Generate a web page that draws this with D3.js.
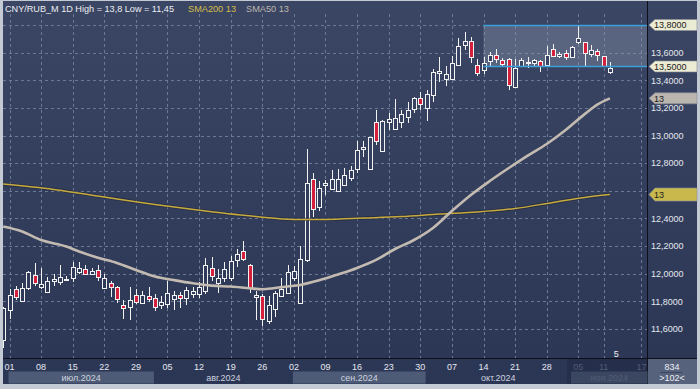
<!DOCTYPE html>
<html lang="ru">
<head>
<meta charset="UTF-8">
<title>CNY/RUB_M 1D</title>
<script src="https://cdn.jsdelivr.net/npm/d3@7"></script>
<style>
  body { margin: 0; background: #c3cad4; }
  svg { display: block; }
  text { font-family: "Liberation Sans", Arial, sans-serif; }
</style>
</head>
<body>
<script>

// trading days shown (MM-DD, 2024)
const dates = ['06-28',
  '07-01','07-02','07-03','07-04','07-05','07-08','07-09','07-10','07-11','07-12','07-15','07-16','07-17','07-18','07-19','07-22','07-23','07-24','07-25','07-26','07-29','07-30','07-31',
  '08-01','08-02','08-05','08-06','08-07','08-08','08-09','08-12','08-13','08-14','08-15','08-16','08-19','08-20','08-21','08-22','08-23','08-26','08-27','08-28','08-29','08-30',
  '09-02','09-03','09-04','09-05','09-06','09-09','09-10','09-11','09-12','09-13','09-16','09-17','09-18','09-19','09-20','09-23','09-24','09-25','09-26','09-27','09-30',
  '10-01','10-02','10-03','10-04','10-07','10-08','10-09','10-10','10-11','10-14','10-15','10-16','10-17','10-18','10-21','10-22','10-23','10-24','10-25','10-28','10-29','10-30','10-31',
  '11-01','11-05','11-06','11-07','11-08','11-11','11-12'];

const open = [11.52,
  11.736,11.888,11.806,11.896,11.988,11.903,11.867,11.947,11.939,11.959,11.968,12.010,12.034,11.998,12.027,11.896,11.932,11.905,11.772,11.762,11.845,11.787,11.840,
  11.825,11.772,11.779,11.816,11.845,11.821,11.850,11.850,11.874,12.041,11.930,11.966,11.966,12.099,12.167,12.063,11.830,11.840,11.658,11.743,11.838,11.857,
  11.971,11.787,12.102,12.688,12.482,12.645,12.616,12.599,12.645,12.693,12.761,12.902,12.761,13.096,12.887,13.096,13.045,13.101,13.132,13.190,13.275,
  13.198,13.295,13.452,13.409,13.411,13.508,13.658,13.682,13.508,13.476,13.537,13.580,13.544,13.554,13.348,13.505,13.527,13.525,13.542,13.513,13.627,13.573,13.598,
  13.569,13.678,13.675,13.590,13.609,13.573,13.460];

const high = [11.76,
  11.889,11.913,11.932,12.022,12.078,12.039,11.973,12.000,12.065,11.985,12.087,12.087,12.063,12.039,12.063,11.998,11.949,11.910,11.811,11.901,11.893,11.874,11.901,
  11.852,11.840,11.944,11.876,11.869,11.905,11.905,11.937,12.114,12.119,12.034,12.087,12.131,12.179,12.240,12.070,11.876,11.852,11.840,11.876,11.966,12.063,
  12.058,12.204,12.900,12.732,12.669,12.676,12.754,12.761,12.768,12.778,12.962,12.962,12.990,13.185,13.113,13.166,13.263,13.185,13.241,13.282,13.314,
  13.326,13.481,13.566,13.500,13.573,13.707,13.748,13.714,13.554,13.566,13.602,13.627,13.561,13.560,13.554,13.561,13.569,13.554,13.545,13.646,13.665,13.605,13.622,
  13.645,13.796,13.680,13.653,13.627,13.575,13.532];

const low = [11.46,
  11.675,11.811,11.796,11.884,11.913,11.888,11.867,11.908,11.918,11.944,11.937,11.998,11.993,11.996,11.947,11.888,11.828,11.787,11.675,11.663,11.779,11.779,11.799,
  11.728,11.743,11.755,11.736,11.755,11.775,11.821,11.825,11.850,11.949,11.857,11.942,11.949,12.046,12.090,11.864,11.663,11.622,11.639,11.690,11.835,11.852,
  11.949,11.787,12.082,12.410,12.453,12.567,12.604,12.599,12.640,12.672,12.730,12.846,12.761,12.931,12.882,13.040,13.045,13.057,13.088,13.161,13.185,
  13.108,13.246,13.391,13.355,13.399,13.500,13.617,13.525,13.428,13.445,13.500,13.525,13.500,13.326,13.343,13.493,13.489,13.500,13.457,13.510,13.569,13.561,13.549,
  13.565,13.665,13.505,13.569,13.537,13.496,13.445];

const close = [11.75,
  11.847,11.828,11.898,12.012,11.932,11.925,11.947,11.964,11.976,11.964,12.046,12.041,11.998,12.019,11.973,11.968,11.903,11.816,11.753,11.811,11.794,11.845,11.816,
  11.760,11.792,11.859,11.847,11.825,11.881,11.874,11.903,12.063,11.983,11.968,12.034,12.095,12.143,12.107,11.896,11.845,11.670,11.772,11.859,11.888,12.010,
  12.019,12.107,12.660,12.470,12.623,12.659,12.688,12.688,12.718,12.754,12.899,12.914,12.987,12.960,13.105,13.120,13.125,13.154,13.185,13.270,13.227,
  13.299,13.457,13.464,13.445,13.525,13.651,13.687,13.569,13.452,13.525,13.585,13.554,13.520,13.367,13.489,13.544,13.532,13.544,13.500,13.585,13.573,13.593,13.569,
  13.641,13.707,13.598,13.617,13.585,13.505,13.489];

// moving averages at these days
const sma50Dates = ['06-28','07-03','07-08','07-12','07-16','07-19','07-24','07-29','08-01','08-06','08-09','08-14','08-19','08-22','08-26','08-28','08-30',
  '09-03','09-06','09-11','09-16','09-19','09-24','09-27','10-02','10-07','10-10','10-15','10-18','10-23','10-28','10-31','11-06','11-08','11-12'];
const sma50Values = [12.342,12.306,12.244,12.197,12.161,12.116,12.078,12.027,11.980,11.954,11.931,11.914,11.907,11.895,11.888,11.897,11.908,
  11.919,11.952,11.995,12.042,12.100,12.179,12.244,12.331,12.454,12.570,12.671,12.765,12.855,12.939,13.040,13.155,13.224,13.269];

const sma200Dates = ['06-28','07-10','07-22','08-01','08-13','08-23','09-02','09-09','09-17','09-25','10-03','10-11','10-21','10-29','11-06','11-12'];
const sma200Values = [12.649,12.610,12.555,12.501,12.454,12.414,12.393,12.393,12.403,12.414,12.432,12.447,12.472,12.516,12.552,12.573];

// price axis
const yTicks = [11.6, 11.8, 12.0, 12.2, 12.4, 12.6, 12.8, 13.0, 13.2, 13.4, 13.6, 13.8];
const yHidden = [12.6, 13.8]; // covered by the tags

// date axis
const tickDays = ['07-01','07-08','07-15','07-22','07-29','08-05','08-12','08-19','08-26','09-02','09-09','09-16','09-23','09-30',
  '10-07','10-14','10-21','10-28','11-05','11-11'];
const futureTick = '17';
const months = ['июл.2024', 'авг.2024', 'сен.2024', 'окт.2024', 'ноя.2024'];
const monthStarts = ['07-01', '08-01', '09-02', '10-01', '11-01'];

// channel
const zoneHigh = 13.8, zoneLow = 13.5, zoneStart = '10-14';

const W = 700, H = 389;
const plotLeft = 3, plotRight = 647.5, plotTop = 0, plotBottom = 358.5;

const svg = d3.select("body").append("svg").attr("width", W).attr("height", H);
const defs = svg.append("defs");

const bg = defs.append("linearGradient").attr("id", "bg")
  .attr("gradientUnits", "userSpaceOnUse")
  .attr("x1", 0).attr("y1", 0).attr("x2", 0).attr("y2", 384);
bg.append("stop").attr("offset", 0).attr("stop-color", "#3b4664");
bg.append("stop").attr("offset", 1).attr("stop-color", "#2b3655");

defs.append("clipPath").attr("id", "plot")
  .append("rect").attr("x", plotLeft).attr("y", plotTop)
  .attr("width", plotRight - plotLeft).attr("height", plotBottom - plotTop);

const x = d3.scaleLinear().domain([1, 96]).range([9.5, 609.9]);
const y = d3.scaleLinear().domain([11.6, 13.8]).range([329, 25]);
const xd = d => x(dates.indexOf(d));

// frame and panels
svg.append("rect").attr("x", 0).attr("y", 0).attr("width", W).attr("height", H).attr("fill", "#c3cad4");
svg.append("rect").attr("x", plotLeft).attr("y", 1).attr("width", 697 - plotLeft).attr("height", 383).attr("fill", "url(#bg)");

const plot = svg.append("g").attr("clip-path", "url(#plot)");

// grid
plot.append("g").selectAll("line").data(yTicks).join("line")
  .attr("x1", plotLeft).attr("x2", plotRight)
  .attr("y1", d => Math.round(y(d)) + 0.5).attr("y2", d => Math.round(y(d)) + 0.5)
  .attr("stroke", "#6c7995").attr("stroke-dasharray", "3,3");

const vTicks = tickDays.map(xd).concat([x(dates.length - 1 + 5)]);
plot.append("g").selectAll("line").data(vTicks).join("line")
  .attr("x1", d => Math.round(d) + 0.5).attr("x2", d => Math.round(d) + 0.5)
  .attr("y1", 14).attr("y2", plotBottom)
  .attr("stroke", "#6c7995").attr("stroke-dasharray", "3,3");

// channel zone
plot.append("rect")
  .attr("x", xd(zoneStart)).attr("y", y(zoneHigh))
  .attr("width", plotRight - xd(zoneStart)).attr("height", y(zoneLow) - y(zoneHigh))
  .attr("fill", "#8e99b0").attr("opacity", 0.38);

// candles
const candles = dates.map((d, i) => ({ i, o: open[i], h: high[i], l: low[i], c: close[i] }));
const cg = plot.append("g").selectAll("g").data(candles).join("g");
cg.append("line")
  .attr("x1", d => Math.round(x(d.i)) + 0.5).attr("x2", d => Math.round(x(d.i)) + 0.5)
  .attr("y1", d => Math.round(y(d.h))).attr("y2", d => Math.round(y(d.l)))
  .attr("stroke", "#f2f2f2").attr("stroke-width", 1);
cg.append("rect")
  .attr("x", d => Math.round(x(d.i)) - 1.5)
  .attr("width", 4)
  .attr("y", d => Math.round(y(Math.max(d.o, d.c))) + 0.5)
  .attr("height", d => Math.max(1, Math.round(y(Math.min(d.o, d.c))) - Math.round(y(Math.max(d.o, d.c)))))
  .attr("fill", d => d.c < d.o ? "#d41f3d" : "url(#bg)")
  .attr("stroke", "#f2f2f2").attr("stroke-width", 1);

// moving averages
const line = d3.line().curve(d3.curveMonotoneX);
const sma200 = sma200Dates.map((d, i) => [xd(d), y(sma200Values[i])]);
const sma50 = sma50Dates.map((d, i) => [xd(d), y(sma50Values[i])]);
plot.append("path").attr("d", line(sma200)).attr("fill", "none")
  .attr("stroke", "#1e2230").attr("stroke-width", 3.2).attr("opacity", 0.55);
plot.append("path").attr("d", line(sma200)).attr("fill", "none")
  .attr("stroke", "#c7ab40").attr("stroke-width", 1.5);
plot.append("path").attr("d", line(sma50)).attr("fill", "none")
  .attr("stroke", "#c3bbb1").attr("stroke-width", 2.6);

// channel borders
[zoneHigh, zoneLow].forEach(v => {
  svg.append("line")
    .attr("x1", xd(zoneStart)).attr("x2", plotRight)
    .attr("y1", Math.round(y(v)) + 0.5).attr("y2", Math.round(y(v)) + 0.5)
    .attr("stroke", "#3b9fd9").attr("stroke-width", 1.6);
});

// price labels
svg.append("g").selectAll("text").data(yTicks.filter(t => !yHidden.includes(t))).join("text")
  .attr("x", 651).attr("y", d => y(d) + 3.3)
  .attr("font-size", 9).attr("fill", "#e4e8ef")
  .text(d => d3.format(".4f")(d).replace(".", ","));

function tag(v, label, fill, h) {
  const yy = y(v), x0 = 649, x1 = 697;
  svg.append("path")
    .attr("d", `M${x0},${yy} L${x0 + 6},${yy - h / 2} L${x1},${yy - h / 2} L${x1},${yy + h / 2} L${x0 + 6},${yy + h / 2} Z`)
    .attr("fill", fill).attr("stroke", "#8a8f98").attr("stroke-width", 0.6);
  svg.append("text").attr("x", 654).attr("y", yy + 3.3)
    .attr("font-size", 9).attr("fill", "#1b1b1b").text(label);
}
tag(zoneHigh, "13,8000", "#ecebd3", 11);
tag(zoneLow, "13,5000", "#ecebd3", 11);
tag(sma50Values[sma50Values.length - 1], "13", "#bab5ae", 11);
tag(sma200Values[sma200Values.length - 1], "13", "#c9b94d", 13);

// axis separators
svg.append("line").attr("x1", plotRight).attr("x2", plotRight).attr("y1", 1).attr("y2", 384)
  .attr("stroke", "#0d1018").attr("stroke-width", 1);
svg.append("line").attr("x1", plotLeft).attr("x2", 697).attr("y1", plotBottom).attr("y2", plotBottom)
  .attr("stroke", "#0d1018").attr("stroke-width", 1);

// month bands
const bandX = monthStarts.map(d => xd(d) - 1).concat([plotRight]);
svg.append("g").selectAll("rect").data(months).join("rect")
  .attr("x", (d, i) => bandX[i]).attr("y", 371.5)
  .attr("width", (d, i) => bandX[i + 1] - bandX[i]).attr("height", 12)
  .attr("fill", (d, i) => i % 2 === 0 ? "#4e5b77" : "none");
svg.append("g").selectAll("text").data(months).join("text")
  .attr("x", (d, i) => (bandX[i] + bandX[i + 1]) / 2).attr("y", 380.5)
  .attr("text-anchor", "middle").attr("font-size", 9)
  .attr("fill", (d, i) => i === months.length - 1 ? "#6f7a93" : "#cdd3de")
  .text(d => d);

// day labels
const lastMonth = monthStarts[monthStarts.length - 1];
svg.append("g").selectAll("text").data(tickDays).join("text")
  .attr("x", d => xd(d)).attr("y", 369.5)
  .attr("text-anchor", "middle").attr("font-size", 9)
  .attr("fill", d => d >= lastMonth ? "#6f7a93" : "#e4e8ef")
  .text(d => d.slice(3));
svg.append("text").attr("x", x(dates.length - 1 + 5)).attr("y", 369.5)
  .attr("text-anchor", "middle").attr("font-size", 9).attr("fill", "#6f7a93").text(futureTick);

// darkened current month on the axis
svg.append("rect").attr("x", bandX[4] - 4).attr("y", 359).attr("width", plotRight - bandX[4] + 4).attr("height", 25)
  .attr("fill", "#1b2238").attr("opacity", 0.35);

// info box
svg.append("rect").attr("x", 648).attr("y", 359).attr("width", 49).attr("height", 25).attr("fill", "#56627c");
svg.append("line").attr("x1", 660).attr("x2", 682).attr("y1", 372.5).attr("y2", 372.5).attr("stroke", "#3e4960");
svg.append("text").attr("x", 672).attr("y", 369.5).attr("text-anchor", "middle")
  .attr("font-size", 9).attr("fill", "#eef0f4").text("834");
svg.append("text").attr("x", 672).attr("y", 381).attr("text-anchor", "middle")
  .attr("font-size", 9).attr("fill", "#eef0f4").text(">102<");

svg.append("text").attr("x", x(dates.length)).attr("y", 356.5).attr("text-anchor", "middle")
  .attr("font-size", 9).attr("fill", "#eef0f4").text("5");

// title
svg.append("text").attr("x", 5).attr("y", 11.5).attr("font-size", 9.5)
  .attr("textLength", 169).attr("lengthAdjust", "spacingAndGlyphs")
  .attr("fill", "#eceef2").text("CNY/RUB_M 1D High = 13,8 Low = 11,45");
svg.append("text").attr("x", 188).attr("y", 11.5).attr("font-size", 9.5)
  .attr("textLength", 48).attr("lengthAdjust", "spacingAndGlyphs")
  .attr("fill", "#d6bd4a").text("SMA200 13");
svg.append("text").attr("x", 246).attr("y", 11.5).attr("font-size", 9.5)
  .attr("textLength", 43).attr("lengthAdjust", "spacingAndGlyphs")
  .attr("fill", "#bdb6ae").text("SMA50 13");

</script>
</body>
</html>
